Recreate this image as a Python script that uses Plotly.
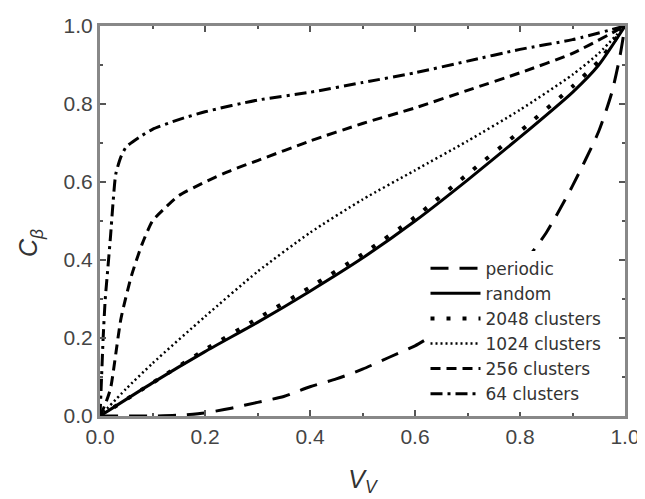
import plotly.graph_objects as go

# Data
periodic_x = [0, 0.1, 0.15, 0.2, 0.25, 0.3, 0.35, 0.4, 0.45, 0.5, 0.55, 0.6, 0.65, 0.7, 0.75, 0.8, 0.85, 0.9, 0.95, 0.975, 0.99, 1.0]
periodic_y = [0, 0, 0.002, 0.008, 0.02, 0.035, 0.05, 0.075, 0.095, 0.12, 0.15, 0.18, 0.22, 0.26, 0.31, 0.38, 0.47, 0.59, 0.73, 0.83, 0.92, 1.0]

random_x = [0, 0.1, 0.2, 0.3, 0.4, 0.5, 0.6, 0.7, 0.8, 0.9, 0.95, 1.0]
random_y = [0, 0.085, 0.165, 0.24, 0.32, 0.405, 0.5, 0.605, 0.715, 0.83, 0.9, 1.0]

c2048_x = [0, 0.1, 0.2, 0.3, 0.4, 0.5, 0.6, 0.7, 0.8, 0.9, 0.95, 1.0]
c2048_y = [0, 0.085, 0.17, 0.25, 0.33, 0.415, 0.51, 0.62, 0.73, 0.845, 0.91, 1.0]

c1024_x = [0, 0.05, 0.1, 0.2, 0.3, 0.4, 0.5, 0.6, 0.7, 0.8, 0.9, 0.95, 1.0]
c1024_y = [0, 0.07, 0.135, 0.255, 0.37, 0.47, 0.555, 0.63, 0.705, 0.785, 0.875, 0.93, 1.0]

c256_x = [0, 0.01, 0.02, 0.04, 0.06, 0.08, 0.1, 0.125, 0.15, 0.2, 0.25, 0.3, 0.4, 0.5, 0.6, 0.7, 0.8, 0.9, 1.0]
c256_y = [0, 0.03, 0.07, 0.25, 0.36, 0.44, 0.5, 0.535, 0.565, 0.6, 0.63, 0.655, 0.705, 0.75, 0.79, 0.835, 0.88, 0.93, 1.0]

c64_x = [0, 0.003, 0.006, 0.01, 0.015, 0.02, 0.025, 0.03, 0.04, 0.05, 0.075, 0.1, 0.15, 0.2, 0.3, 0.4, 0.5, 0.6, 0.7, 0.8, 0.9, 1.0]
c64_y = [0, 0.1, 0.2, 0.3, 0.38, 0.46, 0.55, 0.62, 0.665, 0.69, 0.715, 0.735, 0.76, 0.78, 0.81, 0.83, 0.855, 0.88, 0.91, 0.94, 0.965, 1.0]

tick_vals = [0.0, 0.2, 0.4, 0.6, 0.8, 1.0]
tick_text = ["0.0", "0.2", "0.4", "0.6", "0.8", "1.0"]

series = [
    ("periodic", periodic_x, periodic_y, "18px,11px", 3),
    ("random", random_x, random_y, "solid", 3),
    ("2048 clusters", c2048_x, c2048_y, "4px,12px", 4),
    ("1024 clusters", c1024_x, c1024_y, "2px,3px", 2.5),
    ("256 clusters", c256_x, c256_y, "10px,6px", 3),
    ("64 clusters", c64_x, c64_y, "12px,5px,3px,5px", 3),
]

fig = go.Figure()
for name, xs, ys, dash, w in series:
    fig.add_trace(go.Scatter(x=xs, y=ys, mode="lines", name=name,
                             line=dict(color="black", width=w, dash=dash, shape="spline", smoothing=0.6)))

FONT = "Arial, Liberation Sans"
axis_common = dict(
    range=[0, 1], tickvals=tick_vals, ticktext=tick_text,
    ticks="inside", ticklen=6, tickwidth=1.5, tickcolor="#555",
    showline=True, linecolor="#888", linewidth=3, mirror="ticks",
    showgrid=False, zeroline=False, automargin=False,
    minor=dict(dtick=0.1, ticks="inside", ticklen=3, tickcolor="#555", showgrid=False),
    tickfont=dict(family=FONT, size=21, color="#444"),
)

fig.update_layout(
    width=637, height=491,
    margin=dict(l=92, r=20, t=18, b=83),
    paper_bgcolor="white", plot_bgcolor="white",
    showlegend=True,
    legend=dict(x=0.62, y=0.424, xanchor="left", yanchor="top",
                bgcolor="white", borderwidth=0,
                font=dict(family="DejaVu Sans", size=17, color="#333"),
                tracegroupgap=0, itemwidth=50),
    xaxis=dict(**axis_common, title=dict(text="<i>V<sub>V</sub></i>", standoff=24,
                                         font=dict(family=FONT, size=25, color="#333"))),
    yaxis=dict(**axis_common),
    annotations=[dict(text="<i>C<sub>β</sub></i>", textangle=-90, showarrow=False,
                      xref="paper", yref="paper", x=-0.133, y=0.444,
                      xanchor="center", yanchor="middle",
                      font=dict(family=FONT, size=25, color="#333"))],
)

fig.write_html("out.html")
